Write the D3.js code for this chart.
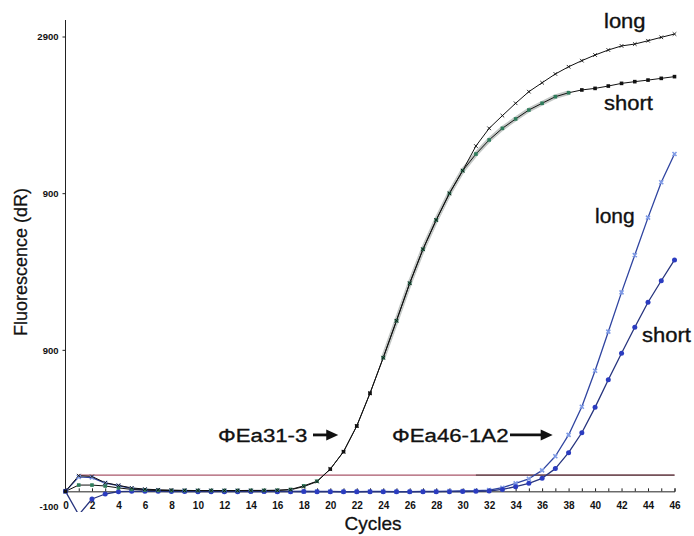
<!DOCTYPE html>
<html>
<head>
<meta charset="utf-8">
<script src="https://cdn.jsdelivr.net/npm/d3@7"></script>
<style>
  body { margin: 0; background: #fff; }
  svg { display: block; font-family: Arial, "Liberation Sans", Helvetica, sans-serif; }
</style>
</head>
<body>
<svg id="chart" width="694" height="536"></svg>
<script>
// Amplification cycles 0..46
const cycles = [0,1,2,3,4,5,6,7,8,9,10,11,12,13,14,15,16,17,18,19,20,21,22,23,24,25,26,27,28,29,30,31,32,33,34,35,36,37,38,39,40,41,42,43,44,45,46];

// Fluorescence (dR) per cycle for each template
const ea31Long  = [0,100,95,55,38,22,14,10,8,6,5,5,5,5,5,5,6,10,30,62,142,253,417,626,853,1089,1328,1545,1732,1902,2047,2204,2317,2398,2477,2551,2608,2664,2710,2749,2785,2817,2843,2855,2876,2898,2919];
const ea31Short = [0,40,40,34,22,12,8,6,5,5,5,5,5,5,6,6,7,12,35,65,142,253,417,626,853,1089,1328,1545,1732,1902,2047,2153,2243,2317,2377,2434,2477,2519,2544,2562,2572,2587,2604,2615,2625,2636,2647];
const ea46Long  = [0,92,88,52,36,18,10,6,4,3,2,2,1,1,1,0,0,0,-1,-1,-1,-2,-2,-1,-1,-2,-2,-1,-1,1,2,4,8,23,51,80,134,224,360,540,770,1019,1270,1508,1747,1973,2153];
const ea46Short = [0,-150,-49,-17,-2,0,1,0,-1,-1,-2,-2,-2,-2,-1,-1,-2,-2,-1,-2,-2,-3,-3,-2,-2,-3,-3,-2,-2,-2,-1,0,2,12,30,51,83,145,247,374,536,712,881,1047,1207,1344,1477];

// Threshold fluorescence
const thresholdValue = 104;

// Axis ticks
const xTickValues = [0,2,4,6,8,10,12,14,16,18,20,22,24,26,28,30,32,34,36,38,40,42,44,46];
const yTickValues = [-100, 900, 1900, 2900];
const yTickLabels = ["-100", "900", "900", "2900"];

const svg = d3.select("#chart");
svg.append("rect").attr("width", 694).attr("height", 536).attr("fill", "#fff");

const x = d3.scaleLinear().domain([0, 46]).range([65.5, 674.5]);
const y = d3.scaleLinear().domain([-100, 2900]).range([507, 37]);

// clip region for the curves
svg.append("defs").append("clipPath").attr("id", "plotClip")
  .append("rect").attr("x", 40).attr("y", 15).attr("width", 650).attr("height", 497);

// ---- axes ----
const xAxisY = y(0);
// x axis line with minor ticks every cycle
const xMinor = d3.axisBottom(x).tickValues(cycles).tickSize(-3).tickFormat("");
svg.append("g").attr("transform", `translate(0,${xAxisY})`).call(xMinor)
  .call(g => g.select(".domain").attr("stroke", "#222").attr("stroke-width", 1))
  .call(g => g.selectAll(".tick line").attr("stroke", "#222"));
const xAxis = d3.axisBottom(x).tickValues(xTickValues).tickSize(0).tickPadding(11).tickFormat(d3.format("d"));
svg.append("g").attr("transform", `translate(0,${xAxisY})`).call(xAxis)
  .call(g => g.select(".domain").remove())
  .call(g => g.selectAll("text").attr("font-size", 10).attr("font-weight", "bold")
    .attr("font-family", "Arial, 'Liberation Sans', sans-serif").attr("fill", "#111"));

// y axis
svg.append("line").attr("x1", x(0)).attr("x2", x(0)).attr("y1", 20).attr("y2", xAxisY)
  .attr("stroke", "#222").attr("stroke-width", 1);
const yTicks = svg.append("g");
yTicks.selectAll("line").data(yTickValues.filter(v => v >= 0)).join("line")
  .attr("x1", x(0) - 3).attr("x2", x(0)).attr("y1", d => y(d)).attr("y2", d => y(d))
  .attr("stroke", "#222");
yTicks.selectAll("text").data(yTickValues).join("text")
  .attr("x", x(0) - 7).attr("y", d => y(d)).attr("dy", "0.35em")
  .attr("text-anchor", "end").attr("font-size", 9.5).attr("font-weight", "bold").attr("fill", "#111")
  .text((d, i) => yTickLabels[i]);

// axis titles
svg.append("text").attr("transform", `translate(27,262) rotate(-90)`)
  .attr("text-anchor", "middle").attr("font-size", 18).attr("fill", "#111")
  .attr("stroke", "#111").attr("stroke-width", 0.25)
  .text("Fluorescence (dR)");
svg.append("text").attr("x", 373).attr("y", 530).attr("text-anchor", "middle")
  .attr("font-size", 19).attr("fill", "#111").attr("stroke", "#111").attr("stroke-width", 0.3)
  .text("Cycles");

// ---- threshold line ----
svg.append("line").attr("x1", x(1)).attr("x2", x(46))
  .attr("y1", y(thresholdValue)).attr("y2", y(thresholdValue))
  .attr("stroke", "#a9566a").attr("stroke-width", 1.2);
svg.append("line").attr("x1", x(31)).attr("x2", x(46))
  .attr("y1", y(thresholdValue)).attr("y2", y(thresholdValue))
  .attr("stroke", "#5a4448").attr("stroke-width", 1.2);

// ---- curves ----
const plot = svg.append("g").attr("clip-path", "url(#plotClip)");
const line = d3.line().x((d, i) => x(cycles[i])).y(d => y(d));
const pts = arr => arr.map((v, i) => ({ c: cycles[i], v }));

// grey halo along the short curve during the log phase
const halo = pts(ea31Short).filter(p => p.c >= 24 && p.c <= 38);
plot.append("path")
  .attr("d", d3.line().x(p => x(p.c)).y(p => y(p.v))(halo))
  .attr("fill", "none").attr("stroke", "#c4c8c6").attr("stroke-width", 4.5).attr("stroke-linecap", "round");

function drawLine(arr, color, width) {
  plot.append("path").attr("d", line(arr)).attr("fill", "none")
    .attr("stroke", color).attr("stroke-width", width).attr("stroke-linejoin", "round");
}

drawLine(ea46Long, "#2f44a0", 1.3);
drawLine(ea46Short, "#27347e", 1.3);
drawLine(ea31Short, "#111", 1);
drawLine(ea31Long, "#111", 1);

// markers
const crossPath = s => `M${-s},${-s}L${s},${s}M${-s},${s}L${s},${-s}`;

plot.append("g").selectAll("path").data(pts(ea46Long)).join("path")
  .attr("transform", p => `translate(${x(p.c)},${y(p.v)})`)
  .attr("d", crossPath(2)).attr("stroke", "#7f9be6").attr("stroke-width", 1.6).attr("fill", "none");

plot.append("g").selectAll("circle").data(pts(ea46Short)).join("circle")
  .attr("cx", p => x(p.c)).attr("cy", p => y(p.v)).attr("r", 2.5)
  .attr("fill", "#2b3cc0");

const greenShort = c => (c >= 1 && c <= 19) || (c >= 24 && c <= 38);
plot.append("g").selectAll("rect").data(pts(ea31Short)).join("rect")
  .attr("x", p => x(p.c) - 1.8).attr("y", p => y(p.v) - 1.8)
  .attr("width", 3.6).attr("height", 3.6)
  .attr("fill", p => greenShort(p.c) ? "#2f7d5c" : "#111");

plot.append("g").selectAll("path").data(pts(ea31Long)).join("path")
  .attr("transform", p => `translate(${x(p.c)},${y(p.v)})`)
  .attr("d", crossPath(1.8)).attr("stroke", "#111").attr("stroke-width", 0.9).attr("fill", "none");

// ---- annotations ----
function label(text, px, py, size, sx) {
  svg.append("text").attr("transform", `translate(${px},${py}) scale(${sx},1)`)
    .attr("font-size", size).attr("fill", "#111")
    .attr("stroke", "#111").attr("stroke-width", 0.35).text(text);
}
label("long", 604, 28, 20, 1.1);
label("short", 604, 110, 20, 1.1);
label("long", 595, 223, 20, 1.05);
label("short", 642, 342, 20, 1.1);
label("\u03A6Ea31-3", 218, 441.5, 19, 1.17);
label("\u03A6Ea46-1A2", 392, 441.5, 19, 1.17);

function arrow(x1, x2, yy) {
  svg.append("line").attr("x1", x1).attr("x2", x2 - 8).attr("y1", yy).attr("y2", yy)
    .attr("stroke", "#111").attr("stroke-width", 2.8);
  svg.append("path").attr("d", `M${x2},${yy}L${x2 - 12},${yy - 5.5}L${x2 - 12},${yy + 5.5}Z`)
    .attr("fill", "#111");
}
const arrowY = y(360);
arrow(313, x(20.6), arrowY);
arrow(510, x(36.8), arrowY);
</script>
</body>
</html>
